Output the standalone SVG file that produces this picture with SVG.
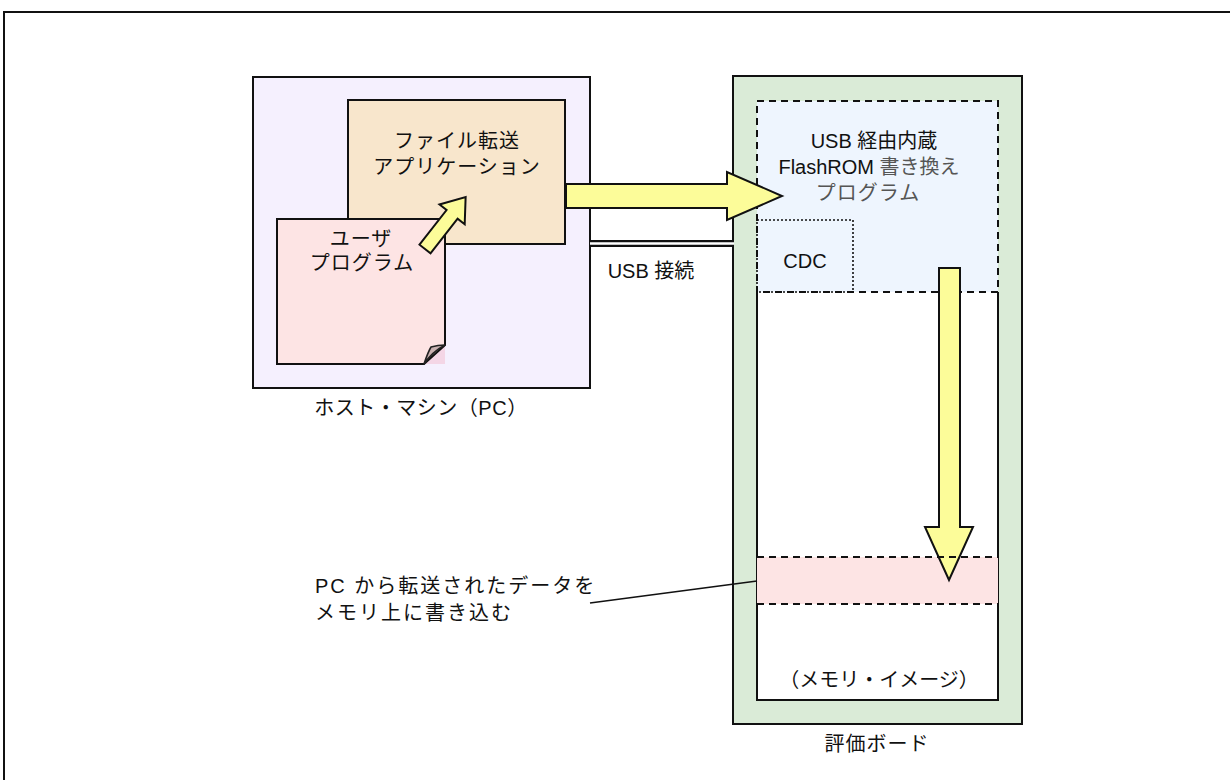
<svg xmlns="http://www.w3.org/2000/svg" width="1230" height="780" viewBox="0 0 1230 780">
<style>
text{font-family:"Liberation Sans","Noto Sans CJK JP",sans-serif;font-size:20px;fill:#111;}
.c{text-anchor:middle;}
.box{stroke:#111;stroke-width:2;}
.arrow{fill:#FCFC99;stroke:#111;stroke-width:2;stroke-linejoin:miter;}
.dash{fill:none;stroke:#111;stroke-width:2;stroke-dasharray:7 5;}
.serif{fill:#555;}
.sp{letter-spacing:2px;}
</style>
<rect width="1230" height="780" fill="#fff"/>
<path d="M4,780 V12 H1232" fill="none" stroke="#111" stroke-width="2"/>

<g id="host">
<rect class="box" x="253" y="77" width="337" height="311" fill="#F5F0FE"/>
<text class="c" x="421" y="415" style="letter-spacing:0.5px">ホスト・マシン（PC）</text>
</g>

<g id="app">
<rect class="box" x="348" y="100" width="217" height="144" fill="#F8E6CC"/>
<text class="c" x="457" y="148" style="letter-spacing:1px">ファイル転送</text>
<text class="c" x="457" y="174" style="letter-spacing:1px">アプリケーション</text>
</g>

<g id="user-program">
<path d="M445,345 V364 H424 Z" fill="#F4D6E6"/>
<path class="box" d="M277,219 H445 V345 L424,364 H277 Z" fill="#FDE4E4"/>
<path d="M424,364 Q428,352 431,347 Q438,345 445,345 Q432,352 424,364 Z" fill="#C9B1B1" stroke="#222" stroke-width="1.6" stroke-linejoin="round"/>
<text class="c" x="361" y="246" style="letter-spacing:1px">ユーザ</text>
<text class="c" x="362" y="270" style="letter-spacing:1px">プログラム</text>
</g>

<g id="board">
<rect class="box" x="733" y="76" width="289" height="648" fill="#DAEBD7"/>
<rect x="757" y="101" width="241" height="599" fill="#fff"/>
<path d="M757,292 V700 H998 V292" fill="none" stroke="#111" stroke-width="2"/>
<text class="c" x="877" y="751" style="letter-spacing:1px">評価ボード</text>
</g>

<g id="rewrite-program">
<rect x="757" y="101" width="241" height="191" fill="#EEF5FE"/>
<rect x="757" y="101" width="241" height="191" class="dash"/>
<text class="c" x="874" y="148">USB 経由内蔵</text>
<text class="c" x="869" y="174">FlashROM <tspan class="serif">書き換え</tspan></text>
<text class="c serif" x="868" y="200" style="letter-spacing:1px">プログラム</text>
</g>

<g id="cdc">
<rect x="757" y="220" width="96" height="72" fill="none" stroke="#111" stroke-width="1.6" stroke-dasharray="2 2"/>
<text class="c" x="805" y="268">CDC</text>
</g>

<g id="memory">
<rect x="757" y="557" width="241" height="47" fill="#FDE4E4"/>
<text class="c" x="879" y="687">（メモリ・イメージ）</text>
</g>

<g id="callout">
<text class="sp" x="315" y="593">PC から転送されたデータを</text>
<text class="sp" x="315" y="620">メモリ上に書き込む</text>
</g>

<g id="connectors">
<polygon class="arrow" points="0,-7 44,-7 44,-16 66,0 44,16 44,7 0,7" transform="translate(425,249) rotate(-52)"/>
<polygon class="arrow" points="566,184 727,184 727,172 782,196 727,220 727,208 566,208"/>
<polygon class="arrow" points="939,268 960,268 960,527 973,527 949,580 925,527 939,527"/>
<line x1="590" y1="243.5" x2="734" y2="243.5" stroke="#111" stroke-width="7"/>
<line x1="590" y1="243.5" x2="734" y2="243.5" stroke="#fff" stroke-width="2.5"/>
<text class="c" x="651" y="278">USB 接続</text>
<line x1="590" y1="603" x2="757" y2="581" stroke="#111" stroke-width="1.6"/>
<line x1="757" y1="557" x2="998" y2="557" class="dash"/>
<line x1="757" y1="604" x2="998" y2="604" class="dash"/>
</g>
</svg>
